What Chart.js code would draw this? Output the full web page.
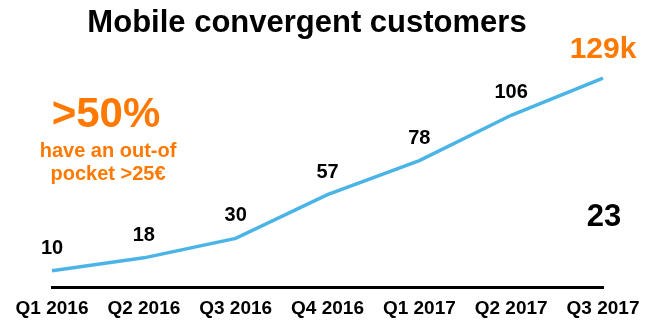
<!DOCTYPE html>
<html>
<head>
<meta charset="utf-8">
<script src="https://cdn.jsdelivr.net/npm/chart.js@4"></script>
<style>
  html, body { margin: 0; background: #fff; }
  #wrap { width: 650px; height: 322px; }
</style>
</head>
<body>
<div id="wrap"><canvas id="chart"></canvas></div>
<script>
// ── DATA ──
const quarters = ['Q1 2016', 'Q2 2016', 'Q3 2016', 'Q4 2016', 'Q1 2017', 'Q2 2017', 'Q3 2017']
const customers = [10, 18, 30, 57, 78, 106, 129]
const pointLabels = ['10', '18', '30', '57', '78', '106', '129k']

const FONT = '"Liberation Sans", Arial, Helvetica, sans-serif'
const ORANGE = '#ff7900'
const BLUE = '#4bb4e6'

// ── TEXT OVERLAY ──
const overlay = {
  id: 'overlay',
  afterDatasetsDraw(chart) {
    const ctx = chart.ctx
    const pts = chart.getDatasetMeta(0).data
    ctx.save()
    ctx.textAlign = 'center'
    ctx.textBaseline = 'alphabetic'

    // point labels
    pts.forEach((p, i) => {
      const last = i === pts.length - 1
      ctx.fillStyle = last ? ORANGE : '#000'
      ctx.font = `bold ${last ? 30 : 20}px ${FONT}`
      ctx.fillText(pointLabels[i], p.x, p.y - (last ? 20 : 17))
    })

    // title
    ctx.fillStyle = '#000'
    ctx.font = `bold 31px ${FONT}`
    ctx.fillText('Mobile convergent customers', 307, 32)

    // callout
    ctx.fillStyle = ORANGE
    ctx.font = `bold 42px ${FONT}`
    ctx.fillText('>50%', 106, 127)
    ctx.font = `bold 20px ${FONT}`
    ctx.fillText('have an out-of', 108, 157)
    ctx.fillText('pocket >25€', 108, 180)

    // side number
    ctx.fillStyle = '#000'
    ctx.font = `bold 31px ${FONT}`
    ctx.fillText('23', 604, 226)
    ctx.restore()
  }
}

new Chart(document.getElementById('chart'), {
  type: 'line',
  data: {
    labels: quarters,
    datasets: [{
      data: customers,
      borderColor: BLUE,
      borderWidth: 3.5,
      pointRadius: 0,
      tension: 0,
      fill: false
    }]
  },
  options: {
    responsive: true,
    maintainAspectRatio: false,
    animation: false,
    layout: { padding: { left: 52, right: 47, top: 44, bottom: 2 } },
    plugins: {
      legend: { display: false },
      tooltip: { enabled: false }
    },
    scales: {
      x: {
        grid: { display: false, drawTicks: false },
        border: { display: true, color: '#000', width: 3 },
        ticks: { color: '#000', padding: 10, maxRotation: 0, font: { family: FONT, size: 19, weight: 'bold' } },
        afterFit(scale) { scale.height = 33 }
      },
      y: { display: false, min: 0, max: 150 }
    }
  },
  plugins: [overlay]
})
</script>
</body>
</html>
